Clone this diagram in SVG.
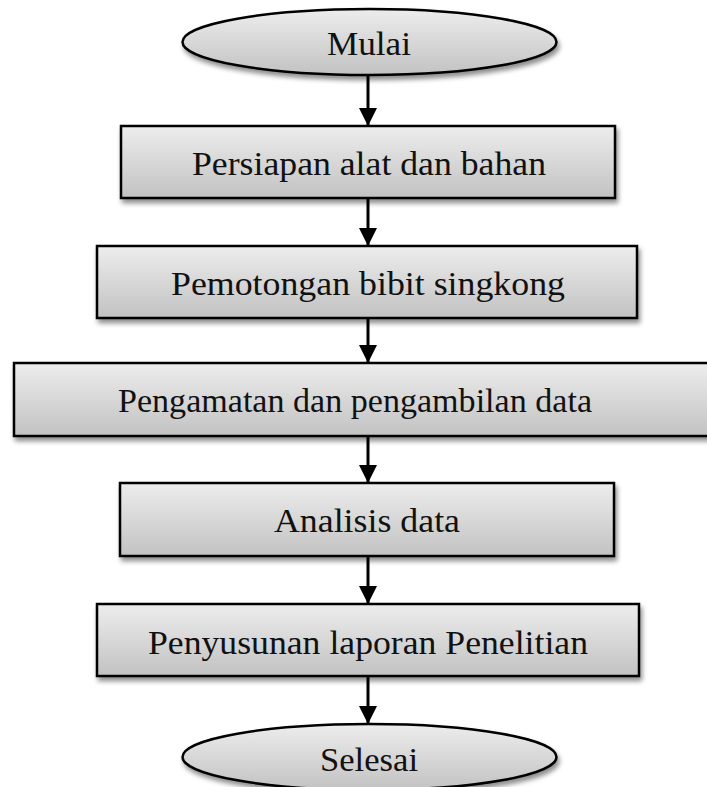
<svg xmlns="http://www.w3.org/2000/svg" width="707" height="787" viewBox="0 0 707 787">
<defs>
<linearGradient id="g" x1="0" y1="0" x2="0" y2="1">
<stop offset="0" stop-color="#ededed"/>
<stop offset="1" stop-color="#c2c2c2"/>
</linearGradient>
<filter id="sh" x="-10%" y="-20%" width="120%" height="150%">
<feGaussianBlur in="SourceAlpha" stdDeviation="2.5"/>
<feOffset dx="2" dy="4" result="b"/>
<feComponentTransfer><feFuncA type="linear" slope="0.45"/></feComponentTransfer>
<feMerge><feMergeNode/><feMergeNode in="SourceGraphic"/></feMerge>
</filter>
<marker id="ah" viewBox="0 0 10 10" refX="10" refY="5" markerWidth="6" markerHeight="6" markerUnits="strokeWidth" orient="auto">
<path d="M0,0 L10,5 L0,10 z" fill="#000"/>
</marker>
<style>
.shape{fill:url(#g);stroke:#000;stroke-width:2.5;filter:url(#sh)}
.lbl{font-family:"Liberation Serif","Times New Roman",serif;font-size:34.5px;fill:#111;text-anchor:middle}
.conn{stroke:#000;stroke-width:3;fill:none;marker-end:url(#ah)}
</style>
</defs>
<g id="connectors">
<line class="conn" x1="368" y1="76" x2="368" y2="126"/>
<line class="conn" x1="368" y1="198" x2="368" y2="246"/>
<line class="conn" x1="368" y1="318" x2="368" y2="363"/>
<line class="conn" x1="368" y1="436" x2="368" y2="483"/>
<line class="conn" x1="368" y1="556" x2="368" y2="604"/>
<line class="conn" x1="368" y1="676" x2="368" y2="724"/>
</g>
<g id="mulai">
<ellipse class="shape" cx="369.5" cy="42" rx="187" ry="33"/>
<text class="lbl" x="369" y="55" textLength="84" lengthAdjust="spacingAndGlyphs">Mulai</text>
</g>
<g id="persiapan">
<rect class="shape" x="121" y="126" width="494" height="72"/>
<text class="lbl" x="369" y="175" textLength="354" lengthAdjust="spacingAndGlyphs">Persiapan alat dan bahan</text>
</g>
<g id="pemotongan">
<rect class="shape" x="97" y="246" width="540" height="72"/>
<text class="lbl" x="368" y="295" textLength="394" lengthAdjust="spacingAndGlyphs">Pemotongan bibit singkong</text>
</g>
<g id="pengamatan">
<rect class="shape" x="14" y="363" width="698" height="73"/>
<text class="lbl" x="355" y="412" textLength="474" lengthAdjust="spacingAndGlyphs">Pengamatan dan pengambilan data</text>
</g>
<g id="analisis">
<rect class="shape" x="120" y="483" width="494" height="73"/>
<text class="lbl" x="367" y="532" textLength="186" lengthAdjust="spacingAndGlyphs">Analisis data</text>
</g>
<g id="penyusunan">
<rect class="shape" x="97" y="604" width="542" height="72"/>
<text class="lbl" x="368" y="654" textLength="440" lengthAdjust="spacingAndGlyphs">Penyusunan laporan Penelitian</text>
</g>
<g id="selesai">
<ellipse class="shape" cx="369.5" cy="757" rx="187" ry="33"/>
<text class="lbl" x="369" y="771" textLength="98" lengthAdjust="spacingAndGlyphs">Selesai</text>
</g>
</svg>
